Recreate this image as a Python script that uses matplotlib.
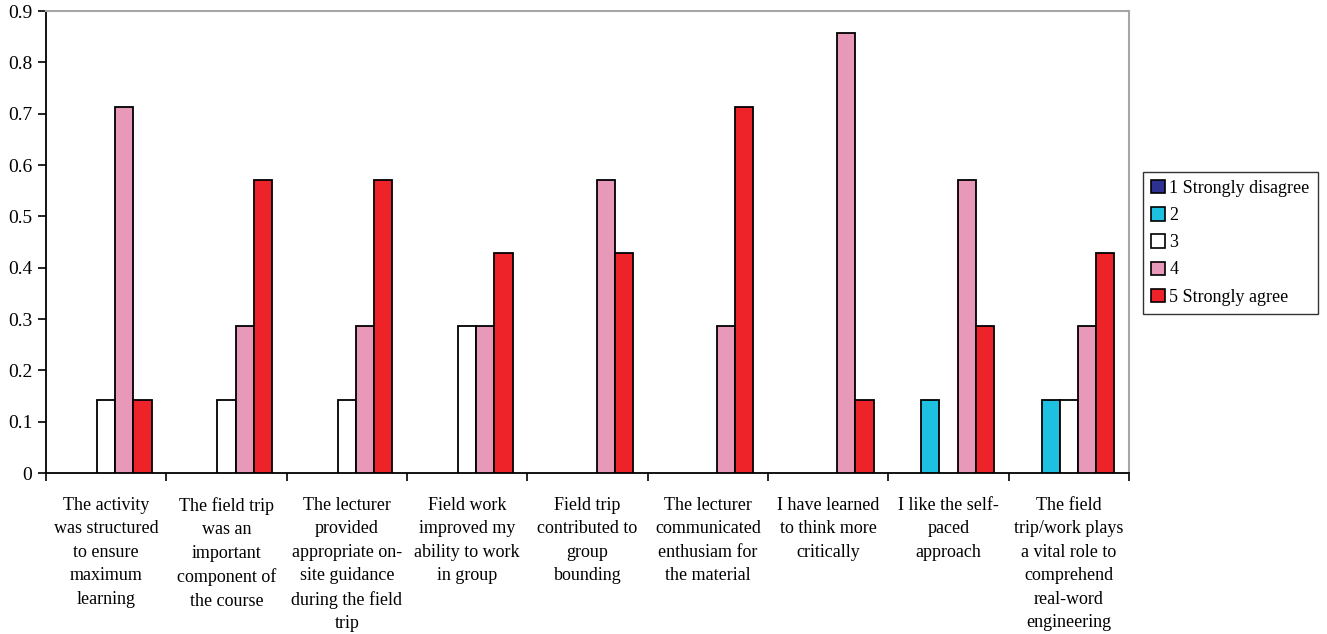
import matplotlib.pyplot as plt
from matplotlib.patches import Patch
import numpy as np

plt.rcParams['font.family'] = ['Liberation Serif', 'DejaVu Serif']

# survey statements (x categories)
categories = [
    "The activity\nwas structured\nto ensure\nmaximum\nlearning",
    "The field trip\nwas an\nimportant\ncomponent of\nthe course",
    "The lecturer\nprovided\nappropriate on-\nsite guidance\nduring the field\ntrip",
    "Field work\nimproved my\nability to work\nin group",
    "Field trip\ncontributed to\ngroup\nbounding",
    "The lecturer\ncommunicated\nenthusiam for\nthe material",
    "I have learned\nto think more\ncritically",
    "I like the self-\npaced\napproach",
    "The field\ntrip/work plays\na vital role to\ncomprehend\nreal-word\nengineering",
]

series_names = ["1 Strongly disagree", "2", "3", "4", "5 Strongly agree"]
s1 = [0, 0, 0, 0, 0, 0, 0, 0, 0]
s2 = [0, 0, 0, 0, 0, 0, 0, 0.143, 0.143]
s3 = [0.143, 0.143, 0.143, 0.286, 0, 0, 0, 0, 0.143]
s4 = [0.714, 0.286, 0.286, 0.286, 0.571, 0.286, 0.857, 0.571, 0.286]
s5 = [0.143, 0.571, 0.571, 0.429, 0.429, 0.714, 0.143, 0.286, 0.429]
series = [s1, s2, s3, s4, s5]
colors = ['#2E3192', '#1EC0E2', '#FFFFFF', '#E899BA', '#EE2229']

fig = plt.figure(figsize=(13.27, 6.34), dpi=100)
ax = fig.add_axes([0.0347, 0.2539, 0.8161, 0.7287])

x = np.arange(len(categories))
w = 0.151
for k, (vals, c) in enumerate(zip(series, colors)):
    vals = np.array(vals)
    pos = x + (k - 2) * w
    m = vals > 0
    ax.bar(pos[m], vals[m], width=w, color=c, edgecolor='black', linewidth=1.3, zorder=3)

ax.set_xlim(-0.5, len(categories) - 0.5)
ax.set_ylim(0, 0.9)
yt = np.arange(0, 0.91, 0.1)
ax.set_yticks(yt)
ax.set_yticklabels([f"{v:.1f}" if v > 0 else "0" for v in yt], fontsize=14)
ax.tick_params(axis='y', length=6, width=1.2, pad=4)

ax.set_xticks(np.arange(-0.5, len(categories), 1))
ax.set_xticklabels([])
ax.tick_params(axis='x', which='major', length=6, width=1.2)
ax.set_xticks(x, minor=True)
ax.set_xticklabels(categories, minor=True, fontsize=13, linespacing=1.5)
ax.tick_params(axis='x', which='minor', length=0, pad=17)

for s in ['left', 'bottom']:
    ax.spines[s].set_color('black')
    ax.spines[s].set_linewidth(1.3)
for s in ['top', 'right']:
    ax.spines[s].set_color('#A6A6A6')
    ax.spines[s].set_linewidth(1.5)

handles = [Patch(facecolor=c, edgecolor='black', linewidth=1.2) for c in colors]
leg = fig.legend(handles, series_names, loc='upper left',
                 bbox_to_anchor=(1143 / 1327, 1 - 172 / 634),
                 fontsize=13, frameon=True, fancybox=False, edgecolor='black',
                 handlelength=0.75, handleheight=0.75, handletextpad=0.25,
                 labelspacing=0.56, borderpad=0.45, borderaxespad=0)
leg.get_frame().set_linewidth(1.0)

fig.savefig('out.png', dpi=100)
